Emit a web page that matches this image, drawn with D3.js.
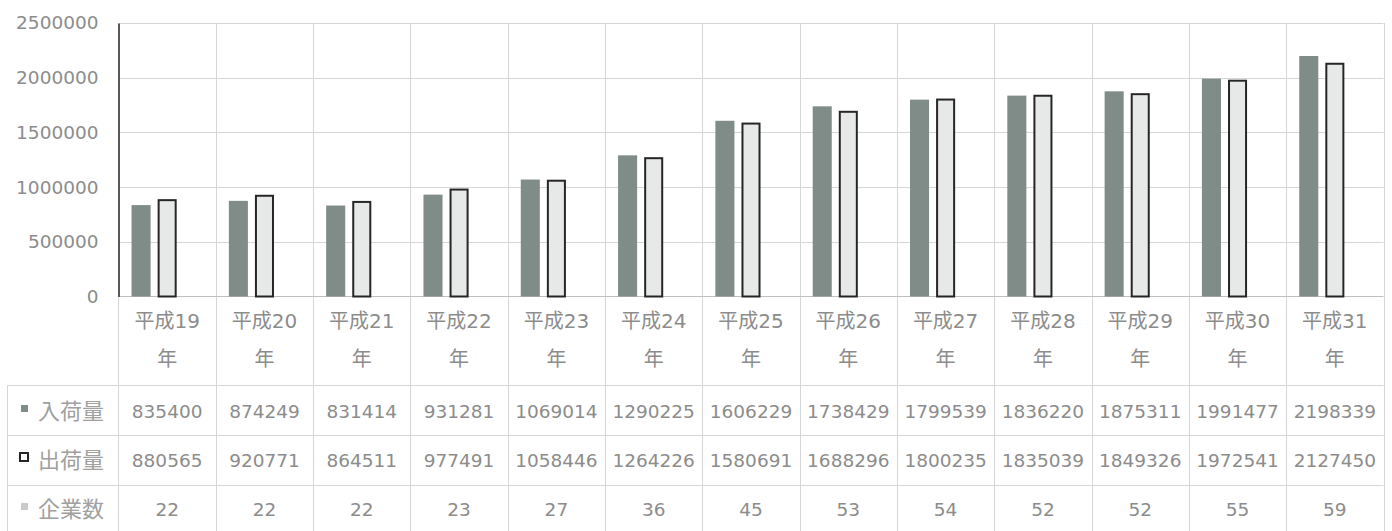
<!DOCTYPE html>
<html>
<head>
<meta charset="utf-8">
<script src="https://cdn.jsdelivr.net/npm/d3@7"></script>
<style>
  html, body { margin: 0; padding: 0; background: #fff; }
  svg { display: block; }
  text { font-family: "DejaVu Sans", "Noto Sans CJK JP", sans-serif; fill: #8a8a8a; }
</style>
</head>
<body>
<svg id="chart" width="1392" height="531"></svg>
<script>
// Categories (fiscal years) and series
const categories = ["平成19年", "平成20年", "平成21年", "平成22年", "平成23年", "平成24年", "平成25年",
                    "平成26年", "平成27年", "平成28年", "平成29年", "平成30年", "平成31年"];
const categoryLine1 = ["平成19", "平成20", "平成21", "平成22", "平成23", "平成24", "平成25",
                       "平成26", "平成27", "平成28", "平成29", "平成30", "平成31"];
const seriesNames = ["入荷量", "出荷量", "企業数"];
const arrivals = [835400, 874249, 831414, 931281, 1069014, 1290225, 1606229, 1738429, 1799539, 1836220, 1875311, 1991477, 2198339];
const shipments = [880565, 920771, 864511, 977491, 1058446, 1264226, 1580691, 1688296, 1800235, 1835039, 1849326, 1972541, 2127450];
const companies = [22, 22, 22, 23, 27, 36, 45, 53, 54, 52, 52, 55, 59];
const yTicks = [0, 500000, 1000000, 1500000, 2000000, 2500000];

const seriesValues = [arrivals, shipments, companies];
const seriesFill = ["#7f8c88", "#e7e9e8", "#c8cbc9"];
const seriesStroke = ["none", "#262626", "none"];

const svg = d3.select("#chart");

const plotLeft = 118.5, plotRight = 1383.5, plotTop = 23, base = 296.5;
const tableLeft = 7.5, tableBottom = 531;
const rowLines = [385.5, 435.5, 485.5];

const x = d3.scaleBand().domain(categories).range([plotLeft, plotRight]);
const xs = d3.scaleBand().domain(seriesNames).range([0, x.bandwidth()])
  .paddingInner(0.27).paddingOuter(0.5);
const y = d3.scaleLinear().domain([0, 2500000]).range([base, plotTop]);

const grid = svg.append("g").attr("stroke", "#d6d6d6").attr("stroke-width", 1);

// horizontal gridlines
grid.selectAll("line.h").data(yTicks.filter(d => d > 0)).join("line")
  .attr("x1", plotLeft).attr("x2", plotRight)
  .attr("y1", d => Math.round(y(d)) + 0.5).attr("y2", d => Math.round(y(d)) + 0.5);

// vertical gridlines at category boundaries (through the data table)
const bounds = categories.slice(1).map(c => x(c)).concat([plotRight]);
grid.selectAll("line.v").data(bounds).join("line")
  .attr("x1", d => Math.round(d) + 0.5).attr("x2", d => Math.round(d) + 0.5)
  .attr("y1", plotTop).attr("y2", tableBottom);

// table row lines
grid.selectAll("line.r").data(rowLines).join("line")
  .attr("x1", tableLeft).attr("x2", plotRight)
  .attr("y1", d => d).attr("y2", d => d);
grid.append("line").attr("x1", tableLeft).attr("x2", tableLeft)
  .attr("y1", rowLines[0]).attr("y2", tableBottom);
grid.append("line").attr("x1", plotLeft).attr("x2", plotLeft)
  .attr("y1", base).attr("y2", tableBottom);

// category axis baseline
svg.append("line").attr("x1", plotLeft).attr("x2", plotRight).attr("y1", base).attr("y2", base)
  .attr("stroke", "#bfbfbf");

// bars
const groups = svg.append("g").selectAll("g").data(categories).join("g")
  .attr("transform", d => `translate(${x(d)},0)`);
seriesNames.forEach((s, si) => {
  groups.append("rect")
    .attr("x", (d, i) => xs(s) + (si === 1 ? 1 : 0))
    .attr("width", xs.bandwidth() - (si === 1 ? 2 : 0))
    .attr("y", (d, i) => y(seriesValues[si][i]))
    .attr("height", (d, i) => base - y(seriesValues[si][i]))
    .attr("fill", seriesFill[si])
    .attr("stroke", seriesStroke[si])
    .attr("stroke-width", 2);
});

// value axis
const yAxis = svg.append("g").attr("transform", `translate(${plotLeft},0)`)
  .call(d3.axisLeft(y).tickValues(yTicks).tickFormat(d3.format("d")).tickSize(0).tickPadding(20));
yAxis.select(".domain").attr("stroke", "#595959").attr("stroke-width", 2);
yAxis.selectAll("text").attr("font-size", 18.5).attr("font-family", null).style("fill", "#8c8c8c");

// category labels (wrapped over two lines)
const catLabels = svg.append("g").selectAll("text").data(categories).join("text")
  .attr("x", d => x(d) + x.bandwidth() / 2)
  .attr("text-anchor", "middle")
  .attr("font-size", 20)
  .style("fill", "#8c8c8c");
catLabels.append("tspan").attr("x", d => x(d) + x.bandwidth() / 2).attr("y", 328)
  .text((d, i) => categoryLine1[i]);
catLabels.append("tspan").attr("x", d => x(d) + x.bandwidth() / 2).attr("y", 366)
  .text(d => d.slice(-1));

// data table rows
const rowMid = [411, 460, 509];
seriesNames.forEach((s, si) => {
  const ry = rowMid[si];
  svg.append("rect")
    .attr("x", si === 1 ? 20 : 21).attr("y", si === 1 ? ry - 7 : ry - 6)
    .attr("width", si === 1 ? 8 : 7).attr("height", si === 1 ? 8 : 7)
    .attr("fill", si === 1 ? "#fff" : seriesFill[si])
    .attr("stroke", si === 1 ? "#262626" : "none")
    .attr("stroke-width", 2);
  svg.append("text").attr("x", 38).attr("y", ry + 8)
    .attr("font-size", 22).style("fill", "#a0a0a0").text(s);
  svg.append("g").selectAll("text").data(categories).join("text")
    .attr("x", d => x(d) + x.bandwidth() / 2)
    .attr("y", ry + 7)
    .attr("text-anchor", "middle")
    .attr("font-size", 18.5)
    .style("fill", "#8c8c8c")
    .text((d, i) => seriesValues[si][i]);
});
</script>
</body>
</html>
